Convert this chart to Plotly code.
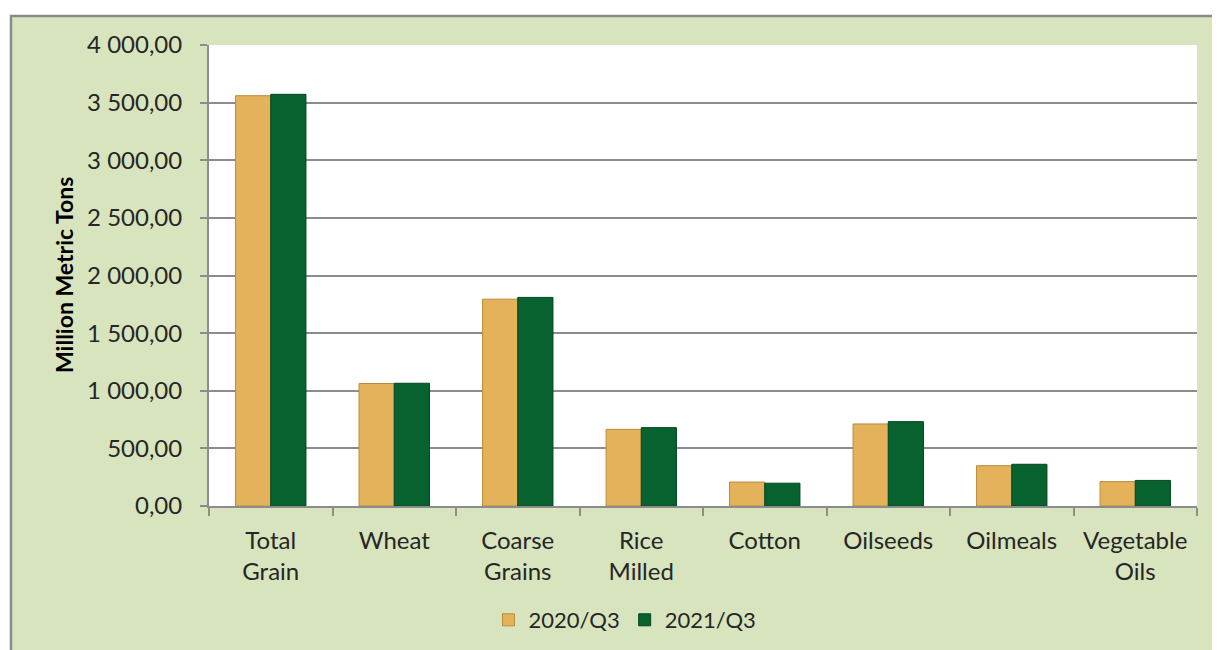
import plotly.graph_objects as go

categories = ["Total<br>Grain", "Wheat", "Coarse<br>Grains", "Rice<br>Milled", "Cotton",
              "Oilseeds", "Oilmeals", "Vegetable<br>Oils"]
series_names = ["2020/Q3", "2021/Q3"]
values_2020 = [3560, 1063, 1795, 665, 208, 712, 350, 212]
values_2021 = [3572, 1065, 1810, 680, 198, 732, 362, 222]
y_tickvals = [0, 500, 1000, 1500, 2000, 2500, 3000, 3500, 4000]

FONT = "Lato, Calibri, Carlito, sans-serif"
TXT = "#262626"
GRID = "#8c8c8c"

fig = go.Figure()
fig.add_trace(go.Bar(
    x=categories, y=values_2020, name=series_names[0],
    marker=dict(color="#E3B25A", line=dict(color="#B98C3E", width=1)),
))
fig.add_trace(go.Bar(
    x=categories, y=values_2021, name=series_names[1],
    marker=dict(color="#07622F", line=dict(color="#03461F", width=1)),
))

# page body has an 8px offset; plot area target in screenshot: x 209..1197, y 45..506
OFF = 8
L, R, T, B = 209 - OFF, 1197 - OFF, 45 - OFF, 506 - OFF
W, H = R - L, B - T
def px(x): return (x - OFF - L) / W
def py(y): return (B - (y - OFF)) / H

shapes = [
    dict(type="rect", xref="paper", yref="paper", layer="below",
         x0=px(11), x1=px(1240), y0=py(16), y1=py(670),
         fillcolor="#D8E4BD", line=dict(color="#8a8a8a", width=2.5)),
    dict(type="rect", xref="paper", yref="paper", layer="below",
         x0=0, x1=1, y0=0, y1=1, fillcolor="white", line=dict(width=0)),
]

fig.update_layout(
    width=1220, height=650,
    margin=dict(l=L, r=1220 - R, t=T, b=650 - B),
    paper_bgcolor="white", plot_bgcolor="white",
    barmode="group", bargap=0.43, bargroupgap=0,
    separators=", ",
    font=dict(family=FONT, color=TXT, size=22),
    shapes=shapes,
    showlegend=True,
    legend=dict(orientation="h", x=px(625), y=py(620), xanchor="center", yanchor="middle",
                font=dict(size=22, family=FONT, color=TXT), bgcolor="rgba(0,0,0,0)",
                itemwidth=30, traceorder="normal"),
    annotations=[dict(text="<b>Million Metric Tons</b>", xref="paper", yref="paper",
                      x=px(64), y=py(275), textangle=-90, showarrow=False,
                      font=dict(size=23, family=FONT, color="#000000"),
                      xanchor="center", yanchor="middle")],
)
fig.update_xaxes(
    showline=True, linecolor=GRID, linewidth=2,
    ticks="outside", tickson="boundaries", ticklen=8, tickcolor=GRID, tickwidth=2,
    tickfont=dict(size=24, family=FONT, color=TXT), ticklabelstandoff=12,
    showgrid=False,
)
fig.update_yaxes(
    range=[0, 4000], tickvals=y_tickvals, tickformat=",.2f",
    showline=True, linecolor=GRID, linewidth=2,
    ticks="outside", ticklen=7, tickcolor=GRID, tickwidth=2,
    tickfont=dict(size=24, family=FONT, color=TXT), ticklabelstandoff=13,
    showgrid=True, gridcolor=GRID, gridwidth=2, zeroline=False,
)

fig.write_html("out.html")
